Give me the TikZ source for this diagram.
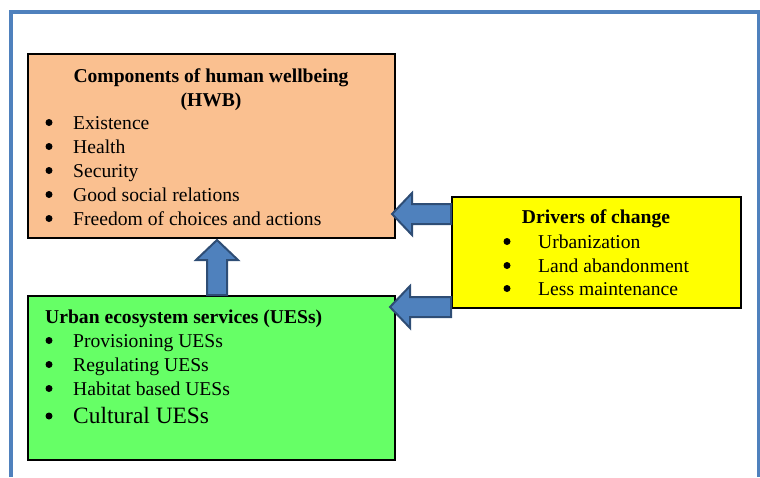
\documentclass[tikz,border=0pt]{standalone}
\usepackage{fontspec}
\setmainfont{Liberation Serif}
\usetikzlibrary{calc}

\definecolor{framec}{HTML}{4F81BD}
\definecolor{hwbfill}{HTML}{FAC090}
\definecolor{uesfill}{HTML}{66FF66}
\definecolor{drvfill}{HTML}{FFFF00}
\definecolor{arrowfill}{HTML}{4F81BD}
\definecolor{arrowline}{HTML}{2E4D75}

\tikzset{
  panel/.style={draw=black, line width=2.5pt, inner sep=0pt, outer sep=0pt, anchor=north west},
  body/.style={font=\fontsize{19.6}{24}\selectfont, inner sep=0pt, anchor=base west},
  head/.style={font=\fontsize{19.6}{24}\selectfont\bfseries, inner sep=0pt, anchor=base},
  dot/.style={circle, fill=black, inner sep=0pt, minimum size=7pt},
  barrow/.style={fill=arrowfill, draw=arrowline, line width=2pt, line join=miter},
}

% block arrow from tail #1 to tip #2
\newcommand\blockarrow[2]{%
  \path coordinate (ah) at ($(#2)!20pt!(#1)$);
  \draw[barrow] ($(#1)!10pt!90:(#2)$) -- ($(ah)!10pt!90:(#2)$)
    -- ($(ah)!21pt!90:(#2)$) -- (#2) -- ($(ah)!21pt!-90:(#2)$)
    -- ($(ah)!10pt!-90:(#2)$) -- ($(#1)!10pt!-90:(#2)$) -- cycle;
}

\begin{document}
\begin{tikzpicture}[x=1pt,y=-1pt]
\useasboundingbox (0,0) rectangle (760,477);

% outer frame
\draw[framec, line width=4pt] (10.5,477) -- (10.5,12) -- (758.5,12) -- (758.5,477);

% panels
\node[panel, fill=hwbfill, minimum width=367pt, minimum height=184pt] (hwb) at (28,54) {};
\node[panel, fill=uesfill, minimum width=367pt, minimum height=164pt] (ues) at (28,296) {};
\node[panel, fill=drvfill, minimum width=289pt, minimum height=111pt] (drv) at (452,197) {};

% arrows
\coordinate (upTail) at (217,295);
\coordinate (upTip) at (217,240);
\coordinate (hiTail) at (451,214);
\coordinate (hiTip) at (392,214);
\coordinate (loTail) at (451,307);
\coordinate (loTip) at (390,307);
\blockarrow{upTail}{upTip}
\blockarrow{hiTail}{hiTip}
\blockarrow{loTail}{loTip}

% human wellbeing panel text
\node[head] (hwbT1) at (211,82) {Components of human wellbeing};
\node[head] (hwbT2) at (211,106) {(HWB)};
\foreach \y/\t [count=\i] in {129/Existence, 153/Health, 177/Security,
    201/Good social relations, 225/Freedom of choices and actions} {
  \node[dot] (hwbB\i) at (49,\y-6.5) {};
  \node[body] (hwbI\i) at (73,\y) {\t};
}

% ecosystem services panel text
\node[head, anchor=base west] (uesT) at (45,323) {Urban ecosystem services (UESs)};
\foreach \y/\t [count=\i] in {347/Provisioning UESs, 371/Regulating UESs,
    395/Habitat based UESs} {
  \node[dot] (uesB\i) at (49,\y-6.5) {};
  \node[body] (uesI\i) at (73,\y) {\t};
}
\node[dot] (uesB4) at (49,416) {};
\node[body, font=\fontsize{23.4}{28}\selectfont] (uesI4) at (73,423) {Cultural UESs};

% drivers panel text
\node[head] (drvT) at (596,223) {Drivers of change};
\foreach \y/\t [count=\i] in {248/Urbanization, 272/Land abandonment, 295/Less maintenance} {
  \node[dot] (drvB\i) at (507,\y-6.5) {};
  \node[body] (drvI\i) at (538,\y) {\t};
}
\end{tikzpicture}
\end{document}
